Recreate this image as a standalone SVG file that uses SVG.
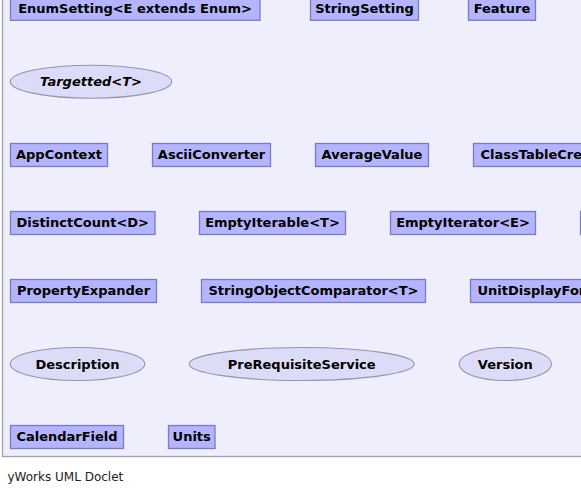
<svg xmlns="http://www.w3.org/2000/svg" width="581" height="494" viewBox="0 0 581 494">
<style>
.bg{fill:#eeeefc;stroke:#a0a0b4;stroke-width:1.3}
.c rect{fill:#b4b4ff;stroke:#7b7bbd;stroke-width:1.3}
.i ellipse{fill:#dcdcf8;stroke:#9494ac;stroke-width:1.1}
text{font-family:"DejaVu Sans",sans-serif;font-weight:bold;font-size:13px;fill:#000;text-anchor:middle}
.it{font-style:italic}
.foot{font-weight:normal;font-size:12px;text-anchor:start;fill:#222}
</style>
<rect class="bg" x="2.5" y="-5" width="590" height="461.5"/>
<g id="EnumSetting" class="c"><rect x="10.5" y="-3" width="249.5" height="23.3"/><text x="135" y="13">EnumSetting&lt;E extends Enum&gt;</text></g>
<g id="StringSetting" class="c"><rect x="310.5" y="-3" width="108" height="23.3"/><text x="364.5" y="13">StringSetting</text></g>
<g id="Feature" class="c"><rect x="468.5" y="-3" width="67" height="23.3"/><text x="502" y="13">Feature</text></g>
<g id="Targetted" class="i"><ellipse cx="91" cy="81.7" rx="80.7" ry="16.5"/><text class="it" x="91" y="86.2">Targetted&lt;T&gt;</text></g>
<g id="AppContext" class="c"><rect x="10.5" y="143.5" width="97" height="23"/><text x="59" y="159.3">AppContext</text></g>
<g id="AsciiConverter" class="c"><rect x="152.5" y="143.5" width="118" height="23"/><text x="211.5" y="159.3">AsciiConverter</text></g>
<g id="AverageValue" class="c"><rect x="315.5" y="143.5" width="113" height="23"/><text x="372" y="159.3">AverageValue</text></g>
<g id="ClassTableCreator" class="c"><rect x="473.5" y="143.5" width="130" height="23"/><text x="480.5" y="159.3" style="text-anchor:start">ClassTableCreator</text></g>
<g id="DistinctCount" class="c"><rect x="10.5" y="211.5" width="144.5" height="23"/><text x="82.7" y="227.3">DistinctCount&lt;D&gt;</text></g>
<g id="EmptyIterable" class="c"><rect x="199.5" y="211.5" width="146" height="23"/><text x="272.5" y="227.3">EmptyIterable&lt;T&gt;</text></g>
<g id="EmptyIterator" class="c"><rect x="390.5" y="211.5" width="145" height="23"/><text x="463" y="227.3">EmptyIterator&lt;E&gt;</text></g>
<g id="Offscreen1" class="c"><rect x="580.5" y="211.5" width="40" height="23"/></g>
<g id="PropertyExpander" class="c"><rect x="10.5" y="279.5" width="146" height="23"/><text x="83.5" y="295.3">PropertyExpander</text></g>
<g id="StringObjectComparator" class="c"><rect x="201.5" y="279.5" width="224" height="23"/><text x="313.5" y="295.3">StringObjectComparator&lt;T&gt;</text></g>
<g id="UnitDisplayFormat" class="c"><rect x="470.5" y="279.5" width="140" height="23"/><text x="477.5" y="295.3" style="text-anchor:start">UnitDisplayFormat</text></g>
<g id="Description" class="i"><ellipse cx="77.5" cy="364" rx="67.3" ry="16.5"/><text x="77.5" y="368.5">Description</text></g>
<g id="PreRequisiteService" class="i"><ellipse cx="301.7" cy="364" rx="112.5" ry="16.5"/><text x="301.7" y="368.5">PreRequisiteService</text></g>
<g id="Version" class="i"><ellipse cx="505.3" cy="364" rx="46.2" ry="16.5"/><text x="505.3" y="368.5">Version</text></g>
<g id="CalendarField" class="c"><rect x="10.5" y="425.5" width="113" height="23"/><text x="67" y="441.3">CalendarField</text></g>
<g id="Units" class="c"><rect x="168.5" y="425.5" width="46.5" height="23"/><text x="191.7" y="441.3">Units</text></g>
<g id="connectors"></g>
<text class="foot" x="7.5" y="481">yWorks UML Doclet</text>
</svg>
